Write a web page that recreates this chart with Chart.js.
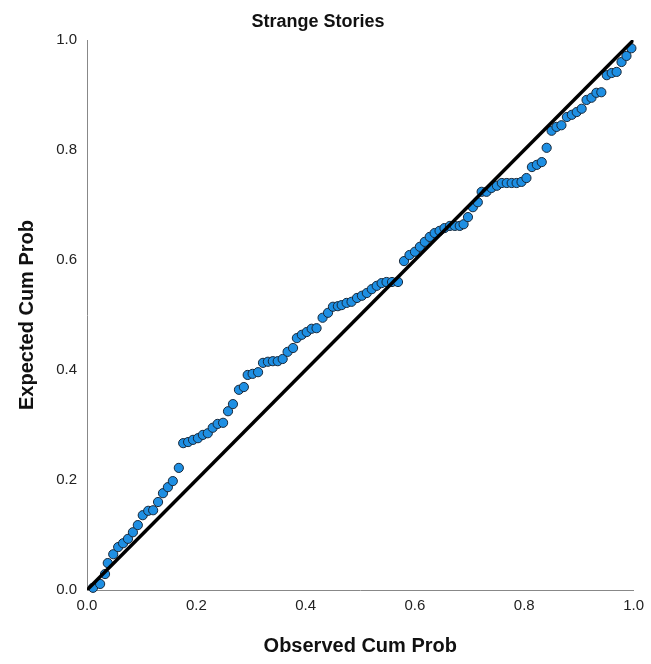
<!DOCTYPE html>
<html>
<head>
<meta charset="utf-8">
<script src="https://cdn.jsdelivr.net/npm/chart.js@4"></script>
<style>
  html, body { margin: 0; padding: 0; background: #fff; }
  #wrap { width: 651px; height: 664px; }
</style>
</head>
<body>
<div id="wrap"><canvas id="myChart" width="651" height="664"></canvas></div>
<script>
// Data
var chartTitle = 'Strange Stories';
var xTitle = 'Observed Cum Prob';
var yTitle = 'Expected Cum Prob';
var tickValues = [0, 0.2, 0.4, 0.6, 0.8, 1.0];

var observed = [
    0.011, 0.024, 0.033, 0.038, 0.048, 0.057, 0.066, 0.075, 0.084, 0.093,
    0.102, 0.112, 0.121, 0.130, 0.139, 0.148, 0.157, 0.168, 0.176, 0.185,
    0.194, 0.203, 0.212, 0.221, 0.230, 0.239, 0.249, 0.258, 0.267, 0.278,
    0.287, 0.294, 0.303, 0.313, 0.322, 0.331, 0.340, 0.349, 0.358, 0.367,
    0.377, 0.384, 0.393, 0.402, 0.411, 0.420, 0.431, 0.441, 0.450, 0.459,
    0.466, 0.475, 0.484, 0.494, 0.503, 0.512, 0.521, 0.530, 0.539, 0.548,
    0.558, 0.569, 0.580, 0.590, 0.600, 0.609, 0.618, 0.627, 0.636, 0.645,
    0.654, 0.664, 0.673, 0.682, 0.689, 0.697, 0.706, 0.715, 0.722, 0.731,
    0.740, 0.750, 0.759, 0.768, 0.777, 0.786, 0.795, 0.804, 0.814, 0.823,
    0.832, 0.841, 0.850, 0.859, 0.868, 0.878, 0.887, 0.896, 0.905, 0.914,
    0.923, 0.932, 0.941, 0.951, 0.960, 0.969, 0.978, 0.987, 0.996
];
var expected = [
    0.004, 0.011, 0.029, 0.049, 0.065, 0.078, 0.085, 0.093, 0.105, 0.118,
    0.136, 0.144, 0.145, 0.160, 0.176, 0.187, 0.198, 0.222, 0.267, 0.269,
    0.273, 0.276, 0.282, 0.285, 0.295, 0.302, 0.304, 0.325, 0.338, 0.364,
    0.369, 0.391, 0.393, 0.396, 0.413, 0.415, 0.416, 0.416, 0.420, 0.433,
    0.440, 0.458, 0.464, 0.469, 0.475, 0.476, 0.495, 0.504, 0.515, 0.516,
    0.518, 0.522, 0.524, 0.531, 0.535, 0.540, 0.547, 0.553, 0.558, 0.560,
    0.560, 0.560, 0.598, 0.609, 0.615, 0.624, 0.633, 0.642, 0.649, 0.653,
    0.658, 0.662, 0.662, 0.662, 0.665, 0.678, 0.696, 0.705, 0.724, 0.724,
    0.731, 0.735, 0.740, 0.740, 0.740, 0.740, 0.742, 0.749, 0.769, 0.773,
    0.778, 0.804, 0.835, 0.842, 0.845, 0.860, 0.864, 0.869, 0.875, 0.891,
    0.895, 0.904, 0.905, 0.936, 0.940, 0.942, 0.960, 0.971, 0.985
];
var refLine = [[0, 0], [1, 1]];

var points = observed.map(function (x, i) { return { x: x, y: expected[i] }; });

// titles drawn around the chart area
var titlesPlugin = {
    id: 'titles',
    afterDraw: function (chart) {
        var c = chart.ctx;
        var area = chart.chartArea;
        c.save();
        c.fillStyle = '#111';
        c.textAlign = 'center';
        c.textBaseline = 'middle';
        c.font = 'bold 18px "Liberation Sans", Arial, sans-serif';
        c.fillText(chartTitle, 318, 22);
        c.font = 'bold 20px "Liberation Sans", Arial, sans-serif';
        c.fillText(xTitle, (area.left + area.right) / 2, 646);
        c.translate(27, (area.top + area.bottom) / 2);
        c.rotate(-Math.PI / 2);
        c.fillText(yTitle, 0, 0);
        c.restore();
    }
};

var ctx = document.getElementById('myChart').getContext('2d');
var myChart = new Chart(ctx, {
    type: 'scatter',
    data: {
        datasets: [{
            type: 'line',
            data: refLine.map(function (p) { return { x: p[0], y: p[1] }; }),
            borderColor: '#000',
            borderWidth: 3.5,
            pointRadius: 0,
            fill: false,
            order: 0
        }, {
            data: points,
            backgroundColor: '#1e8fe3',
            borderColor: '#17283a',
            borderWidth: 1,
            pointRadius: 4.6,
            clip: false,
            order: 1
        }]
    },
    options: {
        responsive: false,
        animation: false,
        layout: { padding: { left: 0, top: 40, right: 17, bottom: 0 } },
        plugins: {
            legend: { display: false },
            tooltip: { enabled: false }
        },
        scales: {
            x: {
                type: 'linear',
                min: 0,
                max: 1,
                afterBuildTicks: function (axis) {
                    axis.ticks = tickValues.map(function (v) { return { value: v }; });
                },
                afterFit: function (axis) { axis.height = 74; },
                grid: { display: false, drawTicks: false },
                border: { display: true, color: '#888', width: 1 },
                ticks: {
                    padding: 7,
                    color: '#222',
                    font: { family: '"Liberation Sans", Arial, sans-serif', size: 15 },
                    maxRotation: 0,
                    callback: function (v) { return v.toFixed(1); }
                }
            },
            y: {
                type: 'linear',
                min: 0,
                max: 1,
                afterBuildTicks: function (axis) {
                    axis.ticks = tickValues.map(function (v) { return { value: v }; });
                },
                afterFit: function (axis) { axis.width = 87; },
                grid: { display: false, drawTicks: false },
                border: { display: true, color: '#888', width: 1 },
                ticks: {
                    padding: 10,
                    color: '#222',
                    font: { family: '"Liberation Sans", Arial, sans-serif', size: 15 },
                    callback: function (v) { return v.toFixed(1); }
                }
            }
        }
    },
    plugins: [titlesPlugin]
});
</script>
</body>
</html>
